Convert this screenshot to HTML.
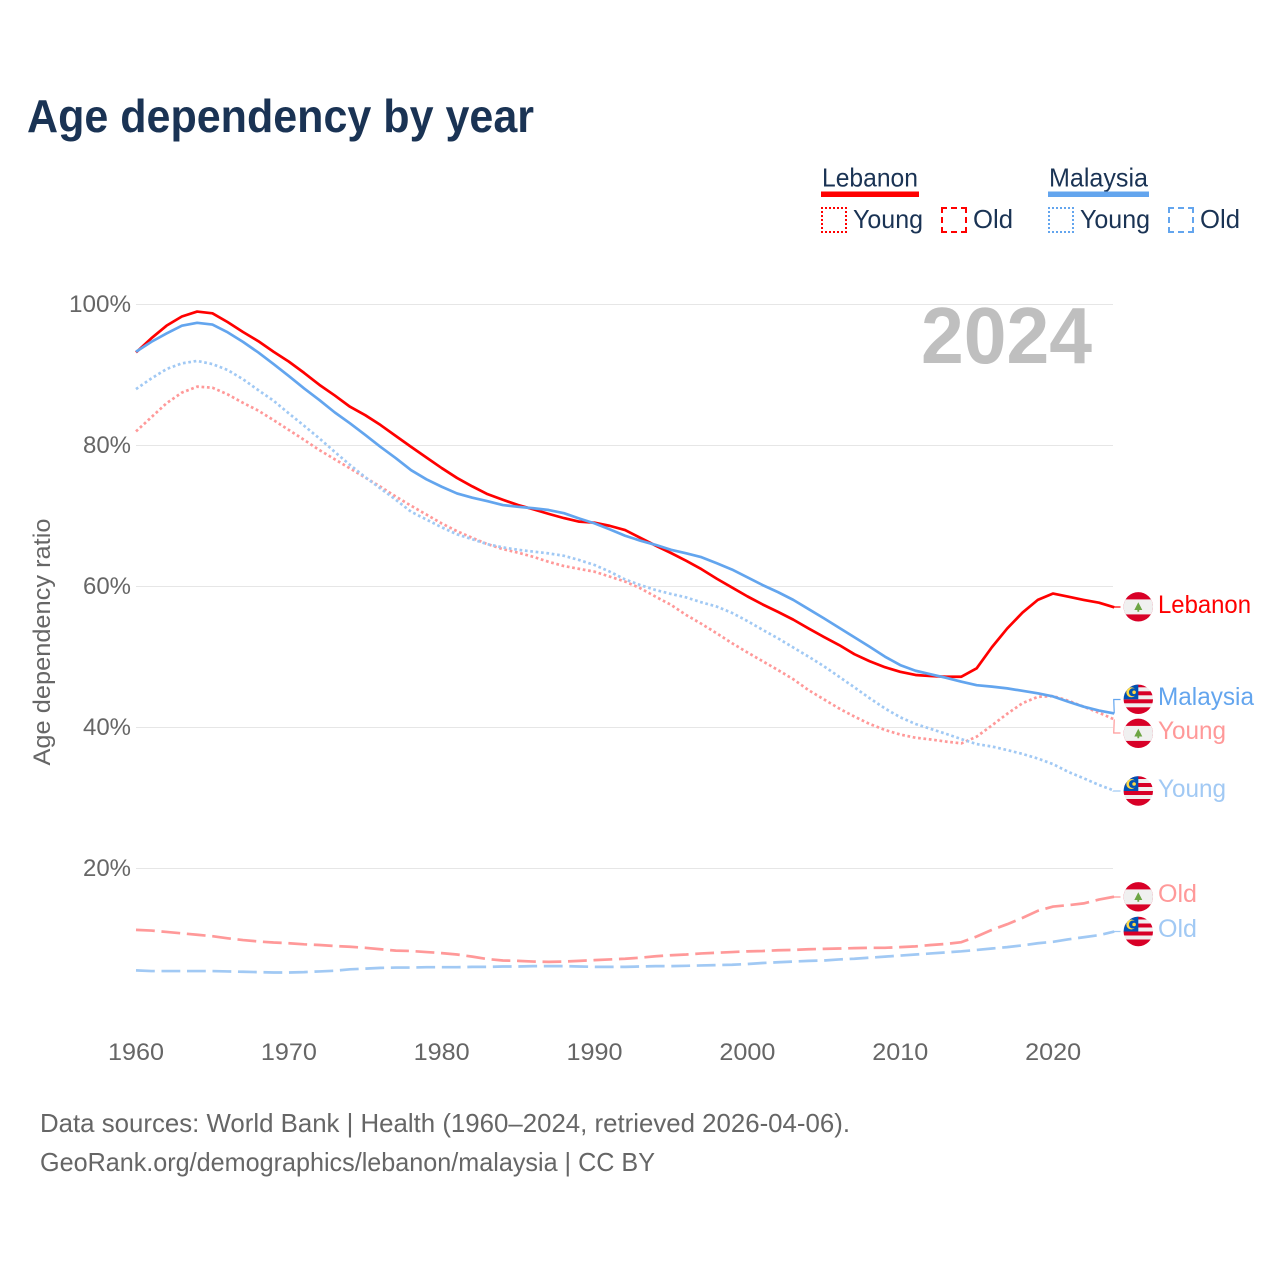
<!DOCTYPE html>
<html lang="en">
<head>
<meta charset="utf-8">
<title>Age dependency by year</title>
<style>
html,body{margin:0;padding:0;background:#fff;}
#page{position:relative;width:1280px;height:1280px;overflow:hidden;background:#fff;font-family:"Liberation Sans",sans-serif;}
svg{position:absolute;left:0;top:0;}
.swatch{position:absolute;top:207px;width:26px;height:26px;box-sizing:border-box;}
text{font-family:"Liberation Sans",sans-serif;}
</style>
</head>
<body>
<div id="page">
<svg id="chart" width="1280" height="1280" viewBox="0 0 1280 1280">
  <defs>
    <clipPath id="flag-clip"><circle cx="0" cy="0" r="14.7"/></clipPath>
    <g id="flag-lb" clip-path="url(#flag-clip)">
      <rect x="-15" y="-15" width="30" height="30" fill="#d80027"/>
      <rect x="-15" y="-7.4" width="30" height="15" fill="#f0f0f0"/>
      <polygon points="0,-4.6 4,3.2 0.9,3.2 0.9,5 -0.9,5 -0.9,3.2 -4,3.2" fill="#6da544"/>
    </g>
    <g id="flag-my" clip-path="url(#flag-clip)">
      <rect x="-15" y="-15" width="30" height="30" fill="#f0f0f0"/>
      <rect x="-15" y="-15" width="30" height="3" fill="#d80027"/>
      <rect x="-15" y="-8" width="30" height="4" fill="#d80027"/>
      <rect x="-15" y="0" width="30" height="4" fill="#d80027"/>
      <rect x="-15" y="8" width="30" height="7" fill="#d80027"/>
      <rect x="-15" y="-15" width="15" height="15" fill="#0052b4"/>
      <circle cx="-7" cy="-7" r="5" fill="#ffda44"/>
      <circle cx="-5.4" cy="-7" r="4" fill="#0052b4"/>
      <circle cx="-4.2" cy="-7" r="1.8" fill="#ffda44"/>
    </g>
  </defs>

  <text x="27" y="132" font-size="46" font-weight="700" fill="#1a3354" textLength="507" lengthAdjust="spacingAndGlyphs">Age dependency by year</text>

  <g id="grid"></g>
  <g id="y-ticks"></g>
  <g id="x-ticks"></g>

  <text transform="translate(50,642) rotate(-90)" text-anchor="middle" font-size="24" fill="#666666" textLength="247" lengthAdjust="spacingAndGlyphs">Age dependency ratio</text>

  <text x="1092" y="363" text-anchor="end" font-size="80" font-weight="700" fill="#bfbfbf" textLength="171" lengthAdjust="spacingAndGlyphs">2024</text>

  <g id="series"></g>
  <g id="connectors"></g>

  <use href="#flag-lb" transform="translate(1138.3,606.8)"/>
  <use href="#flag-my" transform="translate(1138.3,699.3)"/>
  <use href="#flag-lb" transform="translate(1138.3,733.3)"/>
  <use href="#flag-my" transform="translate(1138.3,791)"/>
  <use href="#flag-lb" transform="translate(1138.3,896.8)"/>
  <use href="#flag-my" transform="translate(1138.3,931.5)"/>

  <text x="1158" y="613" font-size="25" fill="#ff0000" textLength="93" lengthAdjust="spacingAndGlyphs">Lebanon</text>
  <text x="1158" y="705" font-size="25" fill="#63a5ee" textLength="96" lengthAdjust="spacingAndGlyphs">Malaysia</text>
  <text x="1158" y="739" font-size="25" fill="#ff9999" textLength="68" lengthAdjust="spacingAndGlyphs">Young</text>
  <text x="1158" y="797" font-size="25" fill="#a1c9f4" textLength="68" lengthAdjust="spacingAndGlyphs">Young</text>
  <text x="1158" y="902" font-size="25" fill="#ff9999" textLength="39" lengthAdjust="spacingAndGlyphs">Old</text>
  <text x="1158" y="937" font-size="25" fill="#a1c9f4" textLength="39" lengthAdjust="spacingAndGlyphs">Old</text>

  <text x="822" y="186.5" font-size="26" fill="#1a3354" textLength="96" lengthAdjust="spacingAndGlyphs">Lebanon</text>
  <rect x="821" y="191.5" width="98" height="5.5" fill="#ff0000"/>
  <text x="853" y="228" font-size="26" fill="#1a3354" textLength="70" lengthAdjust="spacingAndGlyphs">Young</text>
  <text x="973" y="228" font-size="26" fill="#1a3354" textLength="40" lengthAdjust="spacingAndGlyphs">Old</text>
  <text x="1049" y="186.5" font-size="26" fill="#1a3354" textLength="99" lengthAdjust="spacingAndGlyphs">Malaysia</text>
  <rect x="1048" y="191.5" width="101" height="5.5" fill="#63a5ee"/>
  <text x="1080" y="228" font-size="26" fill="#1a3354" textLength="70" lengthAdjust="spacingAndGlyphs">Young</text>
  <text x="1200" y="228" font-size="26" fill="#1a3354" textLength="40" lengthAdjust="spacingAndGlyphs">Old</text>

  <text x="40" y="1132" font-size="26" fill="#666666" textLength="810" lengthAdjust="spacingAndGlyphs">Data sources: World Bank | Health (1960–2024, retrieved 2026-04-06).</text>
  <text x="40" y="1171" font-size="26" fill="#666666" textLength="615" lengthAdjust="spacingAndGlyphs">GeoRank.org/demographics/lebanon/malaysia | CC BY</text>
</svg>
<div class="swatch" style="left:821px;border:2px dotted #ff0000;"></div>
<div class="swatch" style="left:941px;border:2px dashed #ff0000;"></div>
<div class="swatch" style="left:1048px;border:2px dotted #63a5ee;"></div>
<div class="swatch" style="left:1168px;border:2px dashed #63a5ee;"></div>
</div>
<script>
const firstYear = 1960;
const xTickLabels = [1960, 1970, 1980, 1990, 2000, 2010, 2020];
const yTickLabels = [20, 40, 60, 80, 100];

const lebanonTotal = [
  93.2,95.2,97.0,98.3,99.0,98.75,97.5,96.1,94.8,93.3,
  91.9,90.3,88.6,87.1,85.5,84.3,82.9,81.35,79.8,78.3,
  76.8,75.4,74.2,73.1,72.3,71.55,70.95,70.3,69.7,69.2,
  69.05,68.6,68.0,66.9,65.8,64.75,63.65,62.45,61.1,59.85,
  58.6,57.45,56.4,55.3,54.05,52.85,51.7,50.4,49.4,48.55,
  47.9,47.45,47.3,47.2,47.2,48.4,51.4,54.05,56.3,58.1,
  59.0,58.55,58.1,57.7,57.05
];
const malaysiaTotal = [
  93.3,94.7,95.9,97.0,97.4,97.15,96.05,94.7,93.2,91.55,
  89.85,88.1,86.45,84.7,83.15,81.5,79.8,78.2,76.5,75.2,
  74.15,73.2,72.6,72.1,71.55,71.3,71.1,70.85,70.4,69.65,
  68.95,68.1,67.2,66.5,65.9,65.2,64.7,64.15,63.3,62.4,
  61.3,60.2,59.2,58.1,56.8,55.5,54.15,52.8,51.45,50.05,
  48.85,48.05,47.55,47.05,46.5,46.0,45.8,45.55,45.2,44.85,
  44.4,43.65,42.95,42.4,42.0
];
const lebanonYoung = [
  82.0,84.0,86.0,87.5,88.35,88.2,87.25,86.05,84.95,83.6,
  82.2,80.8,79.35,78.05,76.75,75.45,74.15,72.75,71.45,70.2,
  68.95,67.85,66.9,66.0,65.3,64.8,64.2,63.5,62.9,62.5,
  62.1,61.4,60.7,59.75,58.55,57.4,55.95,54.7,53.35,51.95,
  50.65,49.4,48.15,46.85,45.3,44.0,42.7,41.55,40.5,39.65,
  39.0,38.55,38.3,38.0,37.75,38.7,40.3,41.95,43.45,44.35,
  44.45,43.8,42.95,42.1,41.15
];
const malaysiaYoung = [
  88.0,89.5,90.85,91.65,92.0,91.55,90.7,89.4,87.85,86.35,
  84.55,82.8,81.0,79.1,77.25,75.5,73.9,72.3,70.6,69.5,
  68.4,67.4,66.7,66.0,65.55,65.2,64.95,64.7,64.35,63.75,
  63.05,62.1,61.0,60.2,59.5,58.95,58.45,57.75,57.15,56.25,
  55.1,53.85,52.65,51.35,50.05,48.7,47.2,45.7,44.15,42.7,
  41.45,40.5,39.8,39.1,38.35,37.65,37.3,36.8,36.25,35.6,
  34.8,33.7,32.8,31.85,31.05
];
const lebanonOld = [
  11.3,11.2,11.0,10.8,10.6,10.4,10.1,9.85,9.65,9.5,
  9.4,9.25,9.15,9.0,8.9,8.75,8.55,8.35,8.3,8.15,
  8.0,7.8,7.5,7.15,6.95,6.9,6.8,6.75,6.8,6.9,
  7.0,7.1,7.2,7.35,7.55,7.7,7.8,7.95,8.05,8.15,
  8.25,8.3,8.4,8.45,8.55,8.6,8.65,8.7,8.75,8.75,
  8.85,8.95,9.15,9.3,9.55,10.35,11.3,12.1,13.0,14.0,
  14.6,14.8,15.05,15.6,16.0
];
const malaysiaOld = [
  5.55,5.45,5.45,5.45,5.45,5.45,5.4,5.35,5.3,5.25,
  5.25,5.3,5.4,5.5,5.7,5.8,5.9,5.95,5.95,6.0,
  6.0,6.0,6.05,6.05,6.1,6.1,6.15,6.15,6.15,6.1,
  6.05,6.05,6.05,6.1,6.15,6.15,6.2,6.25,6.3,6.35,
  6.45,6.6,6.7,6.8,6.9,6.95,7.1,7.2,7.35,7.5,
  7.65,7.8,7.95,8.1,8.25,8.45,8.65,8.85,9.1,9.4,
  9.6,9.95,10.25,10.55,11.05
];

const SVGNS = 'http://www.w3.org/2000/svg';
function xScale(year) { return 136 + (year - 1960) * 15.285; }
function yScale(value) { return 1009.5 - value * 7.05; }
function linePath(values) {
  return values.map(function (v, i) {
    return (i ? 'L' : 'M') + xScale(firstYear + i).toFixed(2) + ' ' + yScale(v).toFixed(2);
  }).join(' ');
}

const gridGroup = document.getElementById('grid');
const yTickGroup = document.getElementById('y-ticks');
yTickLabels.forEach(function (t) {
  const line = document.createElementNS(SVGNS, 'line');
  
  
  line.setAttribute('x1', 136);
  line.setAttribute('x2', 1113);
  line.setAttribute('y1', yScale(t));
  line.setAttribute('y2', yScale(t));
  line.setAttribute('stroke', '#e6e6e6');
  line.setAttribute('stroke-width', 1);
  gridGroup.appendChild(line);

  const label = document.createElementNS(SVGNS, 'text');
  
  
  label.setAttribute('x', 131);
  label.setAttribute('y', yScale(t) + 7.5);
  label.setAttribute('text-anchor', 'end');
  label.setAttribute('font-size', 24);
  label.setAttribute('fill', '#666666');
  label.setAttribute('textLength', String(t).length * 14 + 20);
  label.setAttribute('lengthAdjust', 'spacingAndGlyphs');
  label.textContent = t + '%';
  yTickGroup.appendChild(label);
});

const xTickGroup = document.getElementById('x-ticks');
xTickLabels.forEach(function (t) {
  const label = document.createElementNS(SVGNS, 'text');
  
  
  label.setAttribute('x', xScale(t));
  label.setAttribute('y', 1060);
  label.setAttribute('text-anchor', 'middle');
  label.setAttribute('font-size', 24);
  label.setAttribute('fill', '#666666');
  label.setAttribute('textLength', 56);
  label.setAttribute('lengthAdjust', 'spacingAndGlyphs');
  label.textContent = t;
  xTickGroup.appendChild(label);
});

const seriesGroup = document.getElementById('series');
function drawLine(values, name, color, dash) {
  const path = document.createElementNS(SVGNS, 'path');
  
  
  path.setAttribute('d', linePath(values));
  path.setAttribute('fill', 'none');
  path.setAttribute('stroke', color);
  path.setAttribute('stroke-width', 2.7);
  path.setAttribute('stroke-linejoin', 'round');
  if (dash) path.setAttribute('stroke-dasharray', dash);
  seriesGroup.appendChild(path);
}
drawLine(lebanonOld, 'lebanon-old-line', '#ff9999', '18.8 6.7');
drawLine(malaysiaOld, 'malaysia-old-line', '#a1c9f4', '18.8 6.7');
drawLine(lebanonYoung, 'lebanon-young-line', '#ff9999', '2.7 2.7');
drawLine(malaysiaYoung, 'malaysia-young-line', '#a1c9f4', '2.7 2.7');
drawLine(lebanonTotal, 'lebanon-total-line', '#ff0000', null);
drawLine(malaysiaTotal, 'malaysia-total-line', '#63a5ee', null);

const connectorGroup = document.getElementById('connectors');
function drawConnector(values, labelY, name, color) {
  const endX = xScale(firstYear + values.length - 1);
  const endY = yScale(values[values.length - 1]);
  const path = document.createElementNS(SVGNS, 'path');
  
  
  path.setAttribute('d', 'M' + endX + ' ' + endY + ' L' + (endX - 0.5) + ' ' + labelY + ' L1120.5 ' + labelY);
  path.setAttribute('fill', 'none');
  path.setAttribute('stroke', color);
  path.setAttribute('stroke-width', 1.2);
  connectorGroup.appendChild(path);
}
drawConnector(lebanonTotal, 607, 'lebanon-connector', '#ff0000');
drawConnector(malaysiaTotal, 699.5, 'malaysia-connector', '#63a5ee');
drawConnector(lebanonYoung, 733, 'lebanon-young-connector', '#ff9999');
drawConnector(malaysiaYoung, 791, 'malaysia-young-connector', '#a1c9f4');
drawConnector(lebanonOld, 897, 'lebanon-old-connector', '#ff9999');
drawConnector(malaysiaOld, 931.5, 'malaysia-old-connector', '#a1c9f4');
</script>
</body>
</html>
